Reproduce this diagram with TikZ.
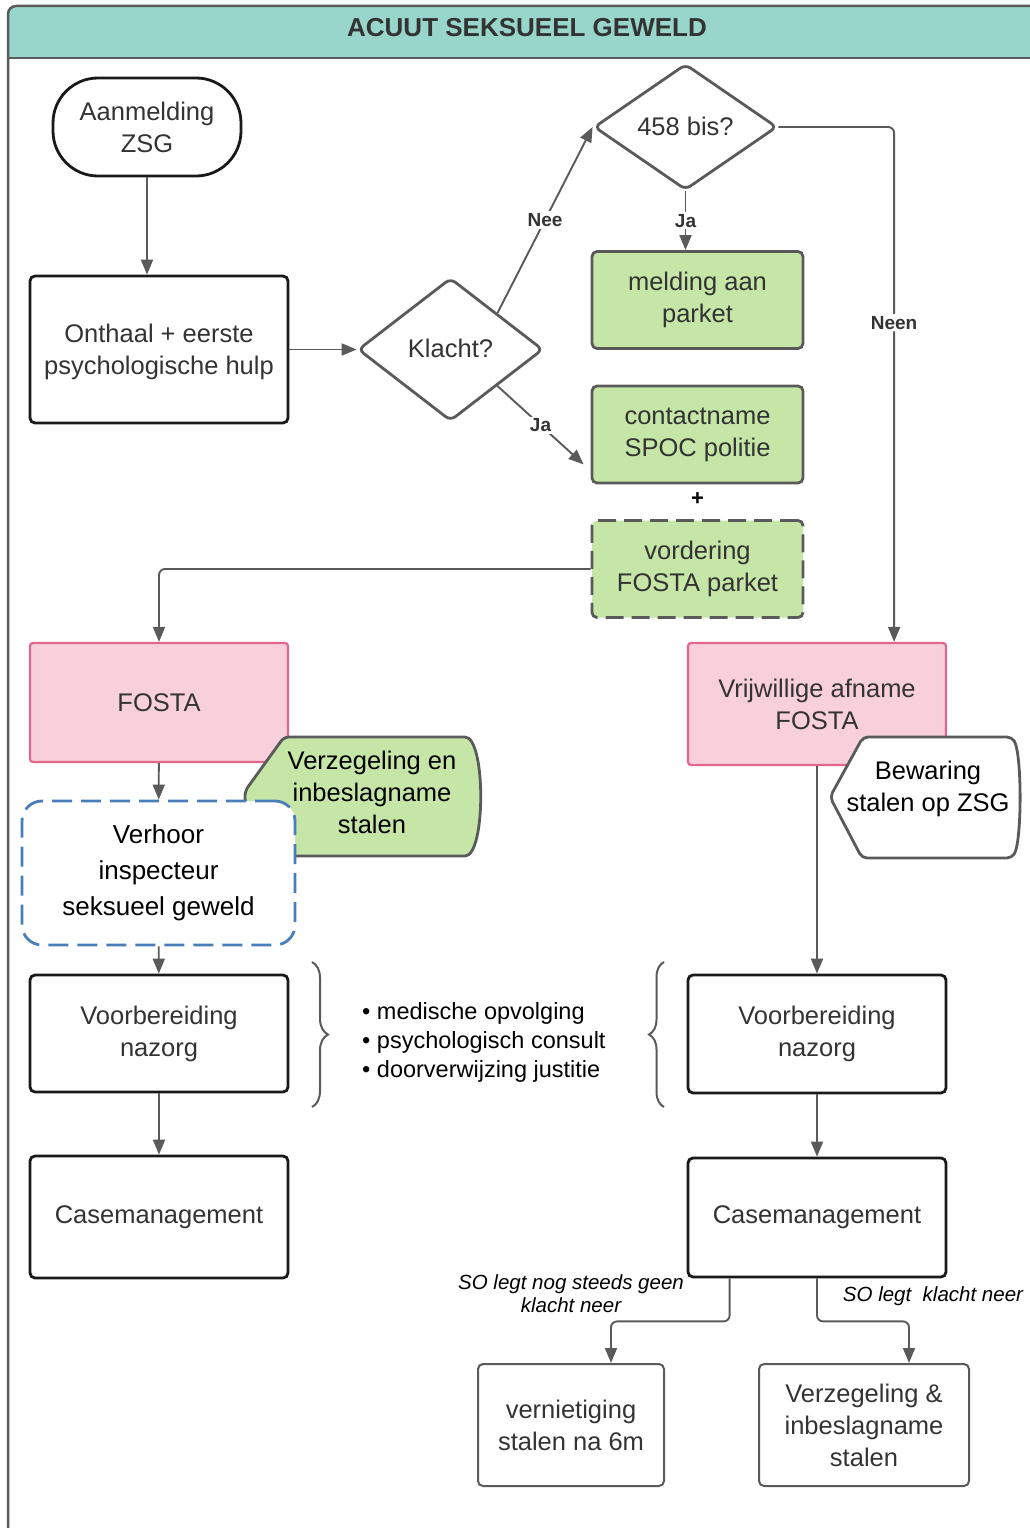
\documentclass[tikz,border=0pt]{standalone}
\usepackage{fontspec}
\setmainfont{Liberation Sans}
\usetikzlibrary{arrows.meta,shapes.geometric,calc,decorations.pathreplacing}
\definecolor{teal1}{HTML}{98D5CB}
\definecolor{green1}{HTML}{C5E6A6}
\definecolor{pink1}{HTML}{F8D0DC}
\definecolor{pinkb}{HTML}{E0668C}
\definecolor{blueb}{HTML}{4A7EBB}
\definecolor{grayl}{HTML}{5A5A5A}
\definecolor{txt}{HTML}{333333}
\begin{document}
\begin{tikzpicture}[x=1pt,y=-1pt,
  mainfont/.style={font=\fontsize{25.5}{32}\selectfont},
  box/.style={draw=black!90, line width=2.8pt, rounded corners=5pt, minimum width=258pt, fill=white, text=txt, align=center, mainfont, inner sep=0pt},
  gbox/.style={draw=grayl, line width=2.8pt, rounded corners=5pt, fill=green1, minimum width=211pt, minimum height=97pt, text=txt, align=center, mainfont, inner sep=0pt},
  pbox/.style={draw=pinkb, line width=2.2pt, rounded corners=3pt, fill=pink1, minimum width=258pt, text=txt, align=center, mainfont, inner sep=0pt},
  dia/.style={diamond, draw=grayl, line width=2.8pt, rounded corners=6pt, fill=white, inner sep=0pt, text=txt, mainfont},
  arr/.style={draw=grayl, line width=1.9pt, -{Triangle[length=15pt,width=12pt]}},
  lbl/.style={font=\fontsize{19}{22}\selectfont\bfseries, text=txt, fill=white, inner sep=2pt},
  itl/.style={font=\fontsize{20.5}{23}\selectfont\itshape, text=black, align=center, inner sep=0pt},
  brc/.style={draw=grayl, line width=2pt, decorate},
]
\useasboundingbox (0,0) rectangle (1030,1528);
\clip (0,0) rectangle (1030,1528);

% frame and header
\fill[teal1] (8,58) [rounded corners=8pt] -- (8,6) -- (1060,6) [sharp corners] -- (1060,58) -- cycle;
\draw[grayl, line width=2.5pt] (8,1560) [rounded corners=8pt] -- (8,6) -- (1060,6);
\draw[grayl, line width=2.5pt] (8,58) -- (1060,58);
\node[font=\fontsize{26}{30}\selectfont\bfseries, text=txt] (title) at (527,28) {ACUUT SEKSUEEL GEWELD};

% top part
\node[box, rounded corners=45pt, minimum width=188pt, minimum height=98pt] (aan) at (147,127) {Aanmelding\\ZSG};
\node[box, minimum height=147pt, text depth=0pt] (ont) at (159,349.5) {Onthaal + eerste\\psychologische hulp};
\node[dia, minimum width=185pt, minimum height=143pt] (kl) at (450.5,349.5) {\raisebox{3pt}{Klacht?}};
\node[dia, minimum width=183pt, minimum height=126pt] (bis) at (685.5,127) {\raisebox{2pt}{458 bis?}};
\node[gbox] (mel) at (697.5,300) {melding aan\\parket};
\node[gbox] (con) at (697.5,434.5) {contactname\\SPOC politie};
\node[font=\fontsize{22}{24}\selectfont\bfseries, text=black, inner sep=0pt] (plus) at (697.5,499) {+};
\node[gbox, dash pattern=on 18pt off 8pt] (vord) at (697.5,569) {vordering\\FOSTA parket};

\draw[arr] (aan.south) -- (aan.south |- ont.north);
\draw[arr] (ont) -- (kl);
\draw[arr] (kl.north east) -- node[lbl]{Nee} (bis.west);
\draw[arr] (bis.south) -- node[lbl]{Ja} (bis.south |- mel.north);
\draw[arr] (kl.south east) -- node[lbl]{Ja} ($(con.south west)+(-7,-20)$);

% left column
\node[pbox, minimum height=119pt] (fosta) at (159,702.5) {FOSTA};
\draw[arr, rounded corners=6pt] (vord.west) -| (fosta.north);

\draw[draw=grayl, fill=green1, line width=2.8pt, rounded corners=5pt]
  (284,737) -- (245,791) -- (245,803) -- (284,856) -- (460,856)
  .. controls (486,856) and (486,737) .. (460,737) -- cycle;
\node[text=black, align=center, mainfont] (seal) at (372,792) {Verzegeling en\\inbeslagname\\stalen};

\node[draw=blueb, dash pattern=on 20pt off 9pt, line width=2.8pt, rounded corners=20pt, fill=white,
  minimum width=273pt, minimum height=144pt, text=black, align=center,
  font=\fontsize{26}{36}\selectfont, inner sep=0pt] (verh) at (158.5,873) {Verhoor\\inspecteur\\seksueel geweld};
\node[box, minimum height=117pt] (voor1) at (159,1033.5) {Voorbereiding\\nazorg};
\node[box, minimum height=122pt] (case1) at (159,1217) {Casemanagement};

\draw[arr] (fosta) -- (verh);
\draw[arr] (verh) -- (voor1);
\draw[arr] (voor1) -- (case1);

% right column
\node[pbox, minimum height=122pt] (vrij) at (817,704) {Vrijwillige afname\\FOSTA};
\draw[arr, rounded corners=6pt] (bis.east) -| node[lbl, pos=0.69]{Neen} ($(vrij.north east)+(-53,0)$);

\draw[draw=grayl, fill=white, line width=2.8pt, rounded corners=5pt]
  (863,737) -- (830,797) -- (862,858) -- (1012,858)
  .. controls (1022,840) and (1022,755) .. (1012,737) -- cycle;
\node[text=black, align=center, mainfont] (bew) at (928,789) {Bewaring\\stalen op ZSG};

\node[box, minimum height=118pt] (voor2) at (817,1034) {Voorbereiding\\nazorg};
\node[box, minimum height=119pt] (case2) at (817,1217.5) {Casemanagement};
\draw[arr] (vrij) -- (voor2);
\draw[arr] (voor2) -- (case2);

% braces and list
\draw[brc, decoration={brace, amplitude=16pt}] (312,962) -- (312,1107);
\draw[brc, decoration={brace, amplitude=15pt}] (664,1107) -- (664,962);
\node[anchor=west, align=left, text=black, font=\fontsize{23.5}{29}\selectfont, inner sep=0pt] (bul) at (362,1042)
  {\textbullet\ medische opvolging\\\textbullet\ psychologisch consult\\\textbullet\ doorverwijzing justitie};

% bottom
\node[draw=grayl, line width=2pt, rounded corners=5pt, minimum width=186pt, minimum height=122pt, text=txt, align=center, mainfont, inner sep=0pt] (vern) at (571,1425) {vernietiging\\stalen na 6m};
\node[draw=grayl, line width=2pt, rounded corners=5pt, minimum width=210pt, minimum height=122pt, text=txt, align=center, mainfont, inner sep=0pt] (verz) at (864,1425) {Verzegeling \&\\inbeslagname\\stalen};

\draw[arr, rounded corners=6pt] ($(case2.south west)+(43,0)$) -- ++(0,43) -| ($(vern.north)+(40,0)$);
\draw[arr, rounded corners=6pt] (case2.south) -- ++(0,43) -| ($(verz.north)+(45,0)$);
\node[itl] (l1) at (571,1294) {SO legt nog steeds geen\\klacht neer};
\node[itl] (l2) at (933,1296) {SO legt\ \ klacht neer};
\end{tikzpicture}
\end{document}
